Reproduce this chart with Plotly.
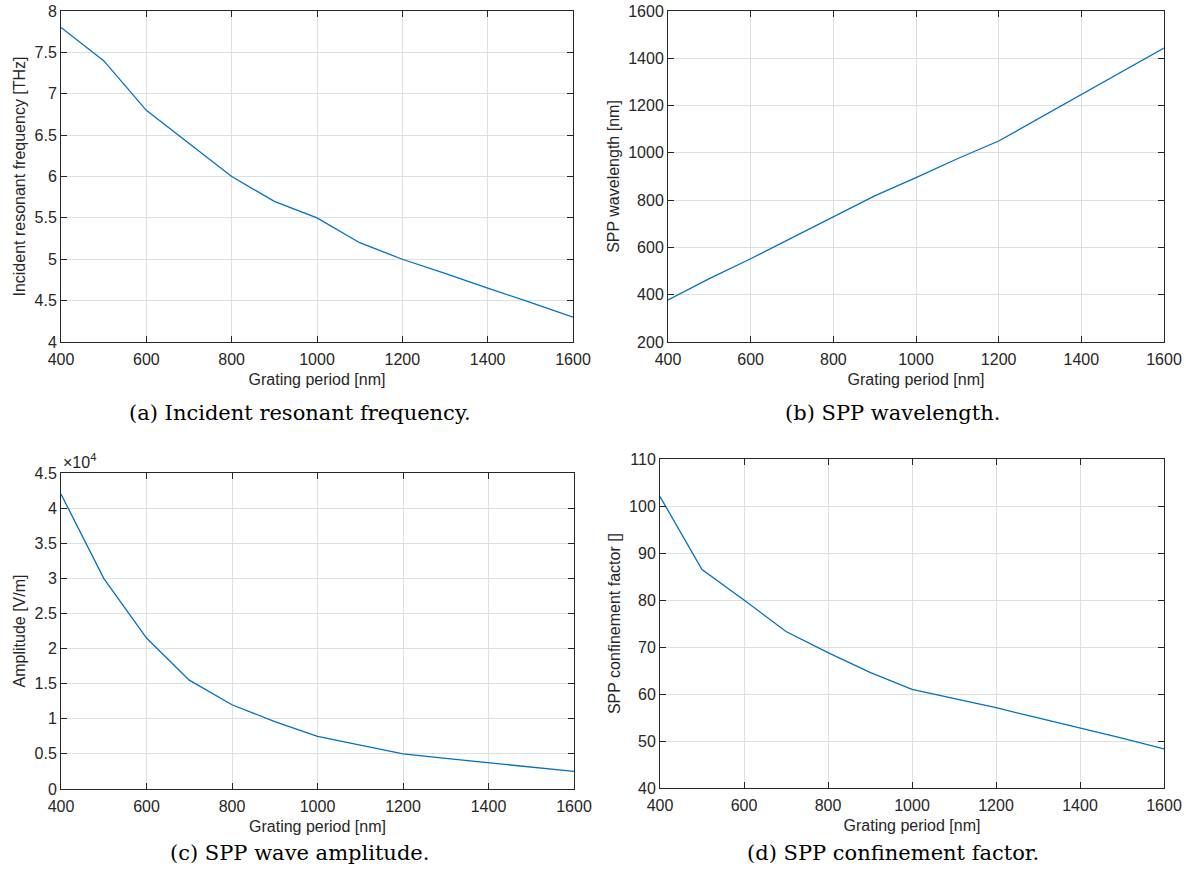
import plotly.graph_objects as go

# ---- data ----
grating_period = [400, 500, 600, 700, 800, 900, 1000, 1100, 1200, 1300, 1400, 1500, 1600]
resonant_freq_thz = [7.8, 7.4, 6.8, 6.4, 6.0, 5.7, 5.5, 5.2, 5.0, 4.83, 4.65, 4.48, 4.3]
spp_wavelength_nm = [378, 468, 552, 640, 728, 818, 895, 975, 1050, 1148, 1248, 1345, 1443]
amplitude_vm = [42000, 30000, 21500, 15500, 12000, 9600, 7500, 6200, 5000, 4350, 3750, 3150, 2500]
confinement = [102, 86.5, 80, 73.3, 68.8, 64.6, 61, 59, 57.1, 54.9, 52.8, 50.6, 48.3]

x_ticks = [400, 600, 800, 1000, 1200, 1400, 1600]
a_ticks = [4, 4.5, 5, 5.5, 6, 6.5, 7, 7.5, 8]
a_ticktext = ["4", "4.5", "5", "5.5", "6", "6.5", "7", "7.5", "8"]
b_ticks = [200, 400, 600, 800, 1000, 1200, 1400, 1600]
c_ticks = [0, 5000, 10000, 15000, 20000, 25000, 30000, 35000, 40000, 45000]
c_ticktext = ["0", "0.5", "1", "1.5", "2", "2.5", "3", "3.5", "4", "4.5"]
d_ticks = [40, 50, 60, 70, 80, 90, 100, 110]

captions = ["(a) Incident resonant frequency.", "(b) SPP wavelength.",
            "(c) SPP wave amplitude.", "(d) SPP confinement factor."]
y_titles = ["Incident resonant frequency [THz]", "SPP wavelength [nm]",
            "Amplitude [V/m]", "SPP confinement factor []"]
x_title = "Grating period [nm]"

W, H = 1186, 877
LINE = "#0072BD"
AX = "#262626"
GRID = "#dfdfdf"
FONT = "Liberation Sans, Arial, sans-serif"
TICK_SIZE = 16
TITLE_SIZE = 16

def px_x(p):
    return p / W

def px_y(p):
    return 1 - p / H

panels = [
    dict(x=(61, 573), y=(11, 342), data=resonant_freq_thz, yr=[4, 8], yt=a_ticks, ytt=a_ticktext, cap=(300, 413)),
    dict(x=(668, 1164), y=(11, 342), data=spp_wavelength_nm, yr=[200, 1600], yt=b_ticks, ytt=[str(v) for v in b_ticks], cap=(892, 413)),
    dict(x=(61, 574), y=(473, 789), data=amplitude_vm, yr=[0, 45000], yt=c_ticks, ytt=c_ticktext, cap=(299, 853)),
    dict(x=(660, 1164), y=(459, 788), data=confinement, yr=[40, 110], yt=d_ticks, ytt=[str(v) for v in d_ticks], cap=(893, 853)),
]

fig = go.Figure()
layout = dict(
    width=W, height=H,
    margin=dict(l=0, r=0, t=0, b=0, autoexpand=False),
    paper_bgcolor="white", plot_bgcolor="white",
    showlegend=False,
    font=dict(family=FONT, color=AX, size=TICK_SIZE),
)
annotations = []

for i, p in enumerate(panels):
    n = "" if i == 0 else str(i + 1)
    xa, ya = "x" + n, "y" + n
    fig.add_trace(go.Scatter(x=grating_period, y=p["data"], mode="lines",
                             line=dict(color=LINE, width=1.3), xaxis=xa, yaxis=ya,
                             hoverinfo="skip"))
    common = dict(showline=True, linecolor=AX, linewidth=1, mirror="ticks",
                  ticks="inside", ticklen=6, tickcolor=AX, tickwidth=1,
                  showgrid=True, gridcolor=GRID, gridwidth=1, zeroline=False,
                  automargin=False,
                  tickfont=dict(family=FONT, size=TICK_SIZE, color=AX))
    layout["xaxis" + n] = dict(common, domain=[px_x(p["x"][0]), px_x(p["x"][1])],
                               range=[400, 1600], tickvals=x_ticks,
                               ticktext=[str(v) for v in x_ticks],
                               anchor=ya, ticklabelstandoff=3,
                               title=dict(text=x_title, font=dict(family=FONT, size=TITLE_SIZE, color=AX), standoff=6))
    layout["yaxis" + n] = dict(common, domain=[px_y(p["y"][1]), px_y(p["y"][0])],
                               range=p["yr"], tickvals=p["yt"], ticktext=p["ytt"],
                               anchor=xa,
                               title=dict(text=y_titles[i], font=dict(family=FONT, size=TITLE_SIZE, color=AX), standoff=4))
    annotations.append(dict(text=captions[i], x=px_x(p["cap"][0]), y=px_y(p["cap"][1]), xref="paper", yref="paper",
                            xanchor="center", yanchor="middle", showarrow=False,
                            font=dict(family="DejaVu Serif, Liberation Serif, serif", size=21, color="black")))

annotations.append(dict(text="×10<sup>4</sup>", x=px_x(61), y=px_y(473), xref="paper", yref="paper",
                        xanchor="left", yanchor="bottom", showarrow=False,
                        font=dict(family=FONT, size=TICK_SIZE, color=AX)))
layout["annotations"] = annotations
fig.update_layout(**layout)
fig.write_html("out.html", config={"displayModeBar": False},
               post_script="document.body.style.margin='0';document.body.style.overflow='hidden';")
